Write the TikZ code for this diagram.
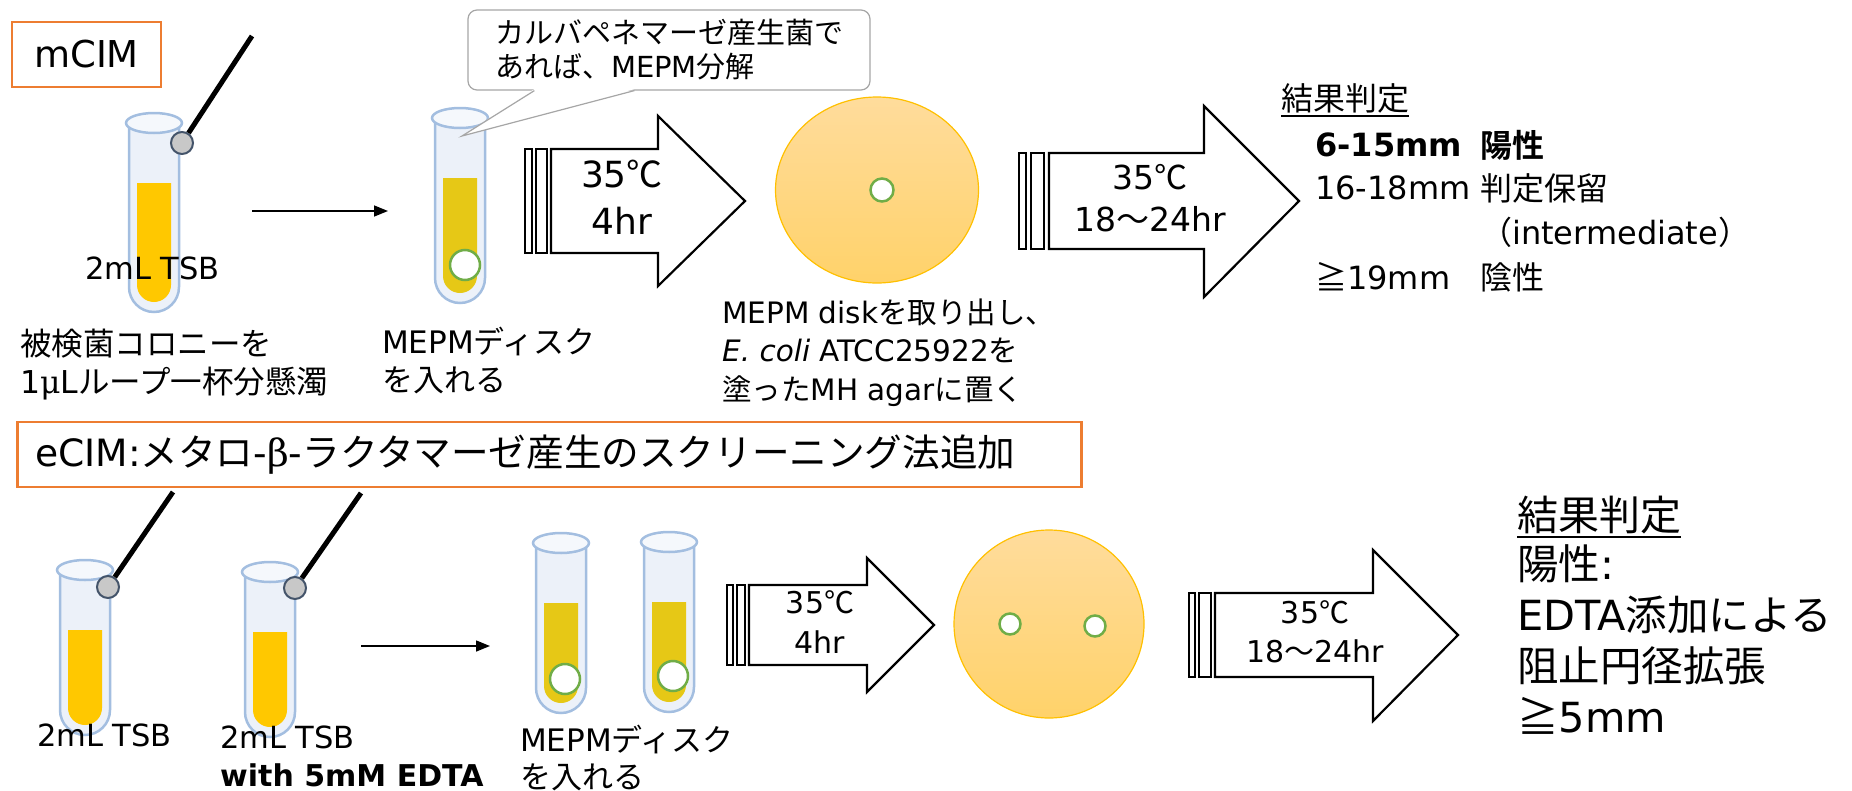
\documentclass[tikz,border=0pt]{standalone}
\usepackage{fontspec}
\setmainfont{DejaVu Sans}
\newfontfamily\jpfont{Noto Sans CJK JP}[BoldFont={Noto Sans CJK JP Bold}]
\newfontfamily\greekfont{DejaVu Serif}
\usetikzlibrary{arrows.meta,shapes.geometric}

\XeTeXinterchartokenstate=1
\newXeTeXintercharclass\jpclass
\newcount\jpchar
\jpchar="3000
\loop
  \XeTeXcharclass\jpchar=\jpclass
  \advance\jpchar by 1
\ifnum\jpchar<"A000 \repeat
\jpchar="FF00
\loop
  \XeTeXcharclass\jpchar=\jpclass
  \advance\jpchar by 1
\ifnum\jpchar<"FFF0 \repeat
\XeTeXcharclass"2103=\jpclass
\XeTeXcharclass"2267=\jpclass
\XeTeXinterchartoks 0 \jpclass = {\jpfont}
\XeTeXinterchartoks 4095 \jpclass = {\jpfont}
\XeTeXinterchartoks \jpclass 0 = {\rmfamily}
\XeTeXinterchartoks \jpclass 4095 = {\rmfamily}

\definecolor{boxorange}{HTML}{ED7D31}
\definecolor{glassline}{HTML}{A3BEE0}
\definecolor{glassfill}{HTML}{ECF1F9}
\definecolor{rimfill}{HTML}{F5F8FC}
\definecolor{tsbyellow}{HTML}{FFC800}
\definecolor{mepmyellow}{HTML}{E6C816}
\definecolor{diskgreen}{HTML}{70AD47}
\definecolor{agartop}{HTML}{FFDC9C}
\definecolor{agarbottom}{HTML}{FFD26A}
\definecolor{agarline}{HTML}{FFC000}
\definecolor{ballgray}{HTML}{C8C8C8}
\definecolor{ballline}{HTML}{44546A}
\definecolor{calloutline}{HTML}{A6A6A6}

\newcommand{\testtube}[4]{
\draw[draw=glassline,line width=2.5,fill=glassfill] (#1-25,#2) -- (#1-25,#2+#3-25) arc[start angle=180,end angle=0,radius=25] -- (#1+25,#2);
\fill[#4] (#1-17,#2+60) -- (#1-17,#2+#3-27) arc[start angle=180,end angle=0,radius=17] -- (#1+17,#2+60) -- cycle;
\draw[draw=glassline,line width=2.5,fill=rimfill] (#1,#2) ellipse[x radius=28,y radius=10];
}

\begin{document}
\begin{tikzpicture}[x=1pt,y=-1pt,
  labelbox/.style={draw=boxorange,line width=2.5,fill=white,inner sep=0pt},
  lbl/.style={inner sep=0pt,anchor=west},
  caption/.style={inner sep=0pt,anchor=north west,align=left},
  bubble/.style={draw=calloutline,line width=1.2,fill=white,rounded corners=9,align=left,inner sep=0pt},
  disk/.style={circle,draw=diskgreen,fill=white,line width=2.5,inner sep=0pt},
  ball/.style={circle,draw=ballline,fill=ballgray,line width=2,minimum size=22,inner sep=0pt},
  wire/.style={line width=5,black},
  thinarrow/.style={line width=1.5,-{Triangle[length=14pt,width=11pt]}},
  bigarrow/.style={draw=black,line width=2.2,fill=white},
  agar/.style={ellipse,draw=agarline,line width=1.2,top color=agartop,bottom color=agarbottom,inner sep=0pt},
  result/.style={inner sep=0pt,anchor=west,font=\fontsize{32}{38}\selectfont},
  incubation/.style={align=center,inner sep=0pt}]
\useasboundingbox (0,0) rectangle (1852,790);

\node[labelbox,minimum width=149,minimum height=65,font=\fontsize{37}{40}\selectfont] (mcim) at (86.5,54.5) {mCIM};

\testtube{154}{123}{189}{tsbyellow}
\node[ball] (ball1) at (182,143) {};
\coordinate (wire1) at (252,36);
\draw[wire] (wire1) -- (ball1);
\node[lbl,font=\fontsize{30.5}{36}\selectfont] (tsb1) at (85,268) {2mL TSB};
\node[caption,font=\fontsize{31.5}{38}\selectfont] (colony) at (20,329) {被検菌コロニーを\\1{\greekfont μ}Lループ一杯分懸濁};

\coordinate (go1) at (252,211);
\coordinate (stop1) at (388,211);
\draw[thinarrow] (go1) -- (stop1);

\testtube{460}{118}{185}{mepmyellow}
\node[disk,minimum size=30] (disk1) at (465,265) {};
\node[caption,font=\fontsize{31}{38}\selectfont] (putdisk1) at (382,326.5) {MEPMディスク\\を入れる};

\node[bubble,minimum width=402,minimum height=80,font=\fontsize{29}{34}\selectfont] (bubble) at (669,50) {カルバペネマーゼ産生菌で\\あれば、MEPM分解};
\coordinate (bubbletip) at (462,136);
\fill[white] ([xshift=67pt,yshift=1.5pt]bubble.south west) -- (bubbletip) -- ([xshift=167pt,yshift=1.5pt]bubble.south west) -- cycle;
\draw[draw=calloutline,line width=1.2] ([xshift=67pt]bubble.south west) -- (bubbletip) -- ([xshift=167pt]bubble.south west);

\draw[bigarrow] (525,149) rectangle (532,253);
\draw[bigarrow] (536,149) rectangle (547,253);
\draw[bigarrow] (551,149) -- (658,149) -- (658,116) -- (745,201) -- (658,286) -- (658,253) -- (551,253) -- cycle;
\node[incubation,font=\fontsize{36}{47}\selectfont] (inc1) at (622,197) {35℃\\4hr};

\node[agar,minimum width=203,minimum height=186] (plate1) at (877,190) {};
\node[disk,minimum size=23] (disk2) at (882,190) {};
\node[caption,font=\fontsize{29.5}{38.5}\selectfont] (transfer) at (722,298.5) {MEPM diskを取り出し、\\\textit{E. coli} ATCC25922を\\塗ったMH agarに置く};

\draw[bigarrow] (1019,153) rectangle (1026,249);
\draw[bigarrow] (1031,153) rectangle (1044,249);
\draw[bigarrow] (1049,153) -- (1204,153) -- (1204,106) -- (1299,201) -- (1204,297) -- (1204,249) -- (1049,249) -- cycle;
\node[incubation,font=\fontsize{33}{42}\selectfont] (inc2) at (1150,198) {35℃\\18～24hr};

\node[result] (judge1) at (1281,98) {結果判定};
\draw[line width=1.6] ([yshift=-3pt]judge1.south west) -- ([yshift=-3pt]judge1.south east);
\node[result,font=\fontsize{32}{38}\selectfont\bfseries] (pos1) at (1315,145) {6-15mm};
\node[result,font=\fontsize{32}{38}\selectfont\bfseries] (pos1jp) at (1480,145) {陽性};
\node[result] (mid1) at (1315,188) {16-18mm};
\node[result] (mid1jp) at (1480,188) {判定保留};
\node[result] (mid1en) at (1480,232) {（intermediate）};
\node[result] (neg1) at (1315,277) {≧19mm};
\node[result] (neg1jp) at (1480,277) {陰性};

\node[labelbox,minimum width=1064,minimum height=65,anchor=west] (ecim) at (16,454.5) {};
\node[lbl,font=\fontsize{37.6}{40}\selectfont] (ecimtext) at ([xshift=19pt]ecim.west) {eCIM:メタロ-{\greekfont β}-ラクタマーゼ産生のスクリーニング法追加};

\testtube{85}{570}{165}{tsbyellow}
\node[ball] (ball3) at (108,587) {};
\coordinate (wire3) at (173,492);
\draw[wire] (wire3) -- (ball3);
\testtube{270}{572}{165}{tsbyellow}
\node[ball] (ball4) at (295,588) {};
\coordinate (wire4) at (361,493);
\draw[wire] (wire4) -- (ball4);
\node[lbl,font=\fontsize{30.5}{36}\selectfont] (tsb3) at (37,735) {2mL TSB};
\node[lbl,font=\fontsize{30.5}{36}\selectfont] (tsb4) at (220,737) {2mL TSB};
\node[lbl,font=\fontsize{30}{36}\selectfont\bfseries] (edta) at (220,775) {with 5mM EDTA};

\coordinate (go2) at (361,646);
\coordinate (stop2) at (490,646);
\draw[thinarrow] (go2) -- (stop2);

\testtube{561}{543}{170}{mepmyellow}
\node[disk,minimum size=30] (disk3) at (565,679) {};
\testtube{669}{542}{170}{mepmyellow}
\node[disk,minimum size=30] (disk4) at (673,676) {};
\node[caption,font=\fontsize{31}{37}\selectfont] (putdisk2) at (520,724.5) {MEPMディスク\\を入れる};

\draw[bigarrow] (727,585) rectangle (733,665);
\draw[bigarrow] (737,585) rectangle (745,665);
\draw[bigarrow] (749,585) -- (867,585) -- (867,558) -- (934,625) -- (867,692) -- (867,665) -- (749,665) -- cycle;
\node[incubation,font=\fontsize{30}{40}\selectfont] (inc3) at (820,622) {35℃\\4hr};

\node[agar,minimum width=190,minimum height=188] (plate2) at (1049,624) {};
\node[disk,minimum size=21] (disk5) at (1010,624) {};
\node[disk,minimum size=21] (disk6) at (1095,626) {};

\draw[bigarrow] (1189,593) rectangle (1195,677);
\draw[bigarrow] (1199,593) rectangle (1211,677);
\draw[bigarrow] (1215,593) -- (1373,593) -- (1373,550) -- (1458,635) -- (1373,721) -- (1373,677) -- (1215,677) -- cycle;
\node[incubation,font=\fontsize{30}{39}\selectfont] (inc4) at (1315,632) {35℃\\18～24hr};

\node[lbl,font=\fontsize{41}{51}\selectfont] (judge2) at (1517,515) {結果判定};
\draw[line width=1.8] ([yshift=-3pt]judge2.south west) -- ([yshift=-3pt]judge2.south east);
\node[caption,font=\fontsize{41.5}{51}\selectfont] (verdict) at (1517,544.5) {陽性:\\EDTA添加による\\阻止円径拡張\\≧5mm};
\end{tikzpicture}
\end{document}
